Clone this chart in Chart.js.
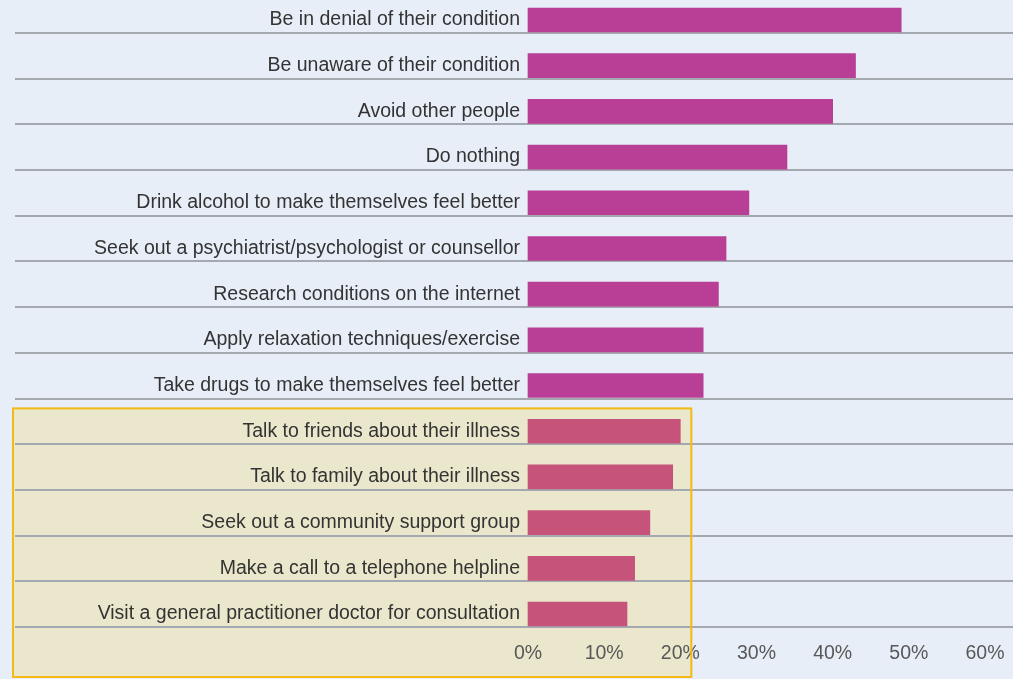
<!DOCTYPE html>
<html>
<head>
<meta charset="utf-8">
<title>Responses to mental illness</title>
<script src="https://cdn.jsdelivr.net/npm/chart.js@4/dist/chart.umd.min.js"></script>
<style>
    html, body { margin: 0; padding: 0; background: #e7eef8; }
    #chartWrap { width: 1013px; height: 679px; }
</style>
</head>
<body>
<div id="chartWrap"><canvas id="responsesChart" width="1013" height="679"></canvas></div>
<script>
// categories, top to bottom
const categories = [
    'Be in denial of their condition',
    'Be unaware of their condition',
    'Avoid other people',
    'Do nothing',
    'Drink alcohol to make themselves feel better',
    'Seek out a psychiatrist/psychologist or counsellor',
    'Research conditions on the internet',
    'Apply relaxation techniques/exercise',
    'Take drugs to make themselves feel better',
    'Talk to friends about their illness',
    'Talk to family about their illness',
    'Seek out a community support group',
    'Make a call to a telephone helpline',
    'Visit a general practitioner doctor for consultation'
];
const shares = [49, 43, 40, 34, 29, 26, 25, 23, 23, 20, 19, 16, 14, 13];
const xTicks = [0, 10, 20, 30, 40, 50, 60];
// rows from this index down sit in the shaded box
const highlightFrom = 9;

const barColor = 'rgb(184, 62, 150)';
const barColorHighlight = 'rgb(198, 84, 122)';
const labelFont = { family: 'Liberation Sans', size: 19.5 };

// separator line under every bar
const rowLines = {
    id: 'rowLines',
    beforeDatasetsDraw(chart) {
        const ctx = chart.ctx;
        const meta = chart.getDatasetMeta(0);
        ctx.save();
        ctx.strokeStyle = '#a4a8af';
        ctx.lineWidth = 2;
        meta.data.forEach(function(bar) {
            const y = Math.round(bar.y + bar.height / 2) + 1;
            ctx.beginPath();
            ctx.moveTo(15, y);
            ctx.lineTo(chart.width, y);
            ctx.stroke();
        });
        ctx.restore();
    }
};

// shaded box behind the lower group of rows
function boxRect(chart) {
    const y = chart.scales.y;
    const x = chart.scales.x;
    const band = y.getPixelForValue(1) - y.getPixelForValue(0);
    return {
        left: 13,
        top: y.getPixelForValue(highlightFrom) - band / 2,
        right: x.getPixelForValue(20) + 11,
        bottom: chart.height - 2
    };
}

const highlightBox = {
    id: 'highlightBox',
    beforeDraw(chart) {
        const r = boxRect(chart);
        const ctx = chart.ctx;
        ctx.save();
        ctx.fillStyle = '#ebe7cc';
        ctx.fillRect(r.left, r.top, r.right - r.left, r.bottom - r.top);
        ctx.restore();
    },
    afterDraw(chart) {
        const r = boxRect(chart);
        const ctx = chart.ctx;
        ctx.save();
        ctx.strokeStyle = '#f3b914';
        ctx.lineWidth = 2;
        ctx.strokeRect(r.left, r.top, r.right - r.left, r.bottom - r.top);
        ctx.restore();
    }
};

const config = {
    type: 'bar',
    data: {
        labels: categories,
        datasets: [{
            data: shares,
            backgroundColor: shares.map(function(v, i) {
                return i >= highlightFrom ? barColorHighlight : barColor;
            }),
            borderWidth: 0,
            barThickness: 24,
            clip: false
        }]
    },
    options: {
        indexAxis: 'y',
        responsive: false,
        animation: false,
        layout: {
            padding: { top: 20, right: 28, left: 0, bottom: 0 }
        },
        plugins: {
            legend: { display: false },
            tooltip: { enabled: false }
        },
        scales: {
            x: {
                min: 0,
                max: 60,
                afterBuildTicks(scale) {
                    scale.ticks = xTicks.map(function(v) { return { value: v }; });
                },
                grid: { display: false, drawTicks: false },
                border: { display: false },
                ticks: {
                    padding: 28,
                    color: '#585858',
                    font: labelFont,
                    callback: function(v) { return v + '%'; }
                },
                afterFit(scale) {
                    scale.height = 65;
                    // the "60%" label fits inside the right padding
                    scale.paddingLeft = 0;
                    scale.paddingRight = 0;
                }
            },
            y: {
                offset: false,
                grid: { display: false, drawTicks: false },
                border: { display: false },
                ticks: {
                    padding: 8,
                    color: '#333333',
                    font: labelFont
                },
                afterFit(scale) { scale.width = 528; }
            }
        }
    },
    plugins: [highlightBox, rowLines]
};

new Chart(document.getElementById('responsesChart').getContext('2d'), config);
</script>
</body>
</html>
